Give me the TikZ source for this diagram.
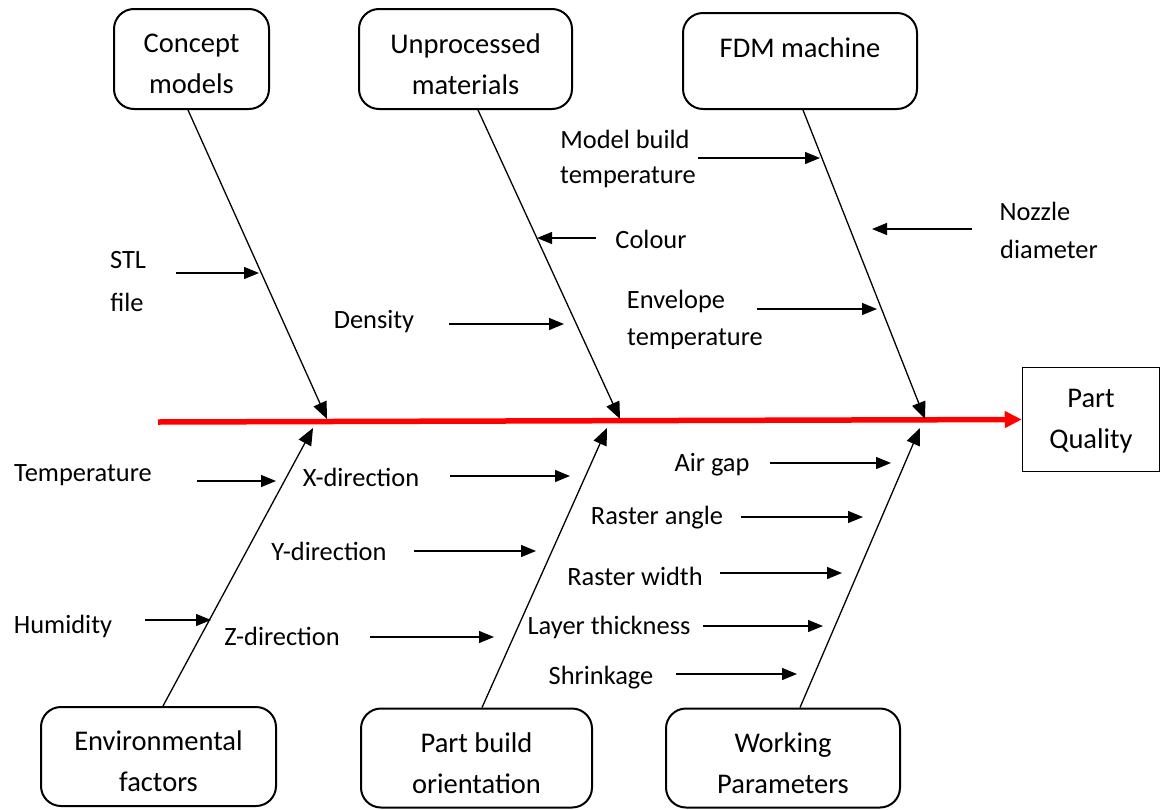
\documentclass[tikz,border=0pt]{standalone}
\usepackage{fontspec}
\setmainfont{Carlito}
\usetikzlibrary{arrows.meta}
\begin{document}
\begin{tikzpicture}[x=1pt,y=-1pt,
  cause/.style={draw,line width=2pt,rounded corners=20pt,inner sep=0pt},
  ctext/.style={align=center,inner sep=0pt,font=\fontsize{28.5}{41}\selectfont},
  effect/.style={draw,line width=1.5pt,inner sep=0pt},
  lbl/.style={inner sep=0pt,text height=17pt,text depth=0pt,
    font=\fontsize{26.4}{38}\selectfont},
  bone/.style={line width=1.3pt,-{Triangle[length=17pt,width=14pt]}},
  sub/.style={line width=1.3pt,-{Triangle[length=15pt,width=12pt]}},
  spine/.style={draw=red,line width=5.5pt,-{Triangle[length=17pt,width=16pt]}}]
\useasboundingbox (0,0) rectangle (1165,809);

% cause categories
\node[cause,minimum width=155pt,minimum height=100pt] (concept) at (191.5,59) {};
\node[ctext] (conceptT) at ([yshift=-5pt]concept.center) {Concept\\models};
\node[cause,minimum width=213pt,minimum height=100pt] (raw) at (465.5,59) {};
\node[ctext] (rawT) at ([yshift=-5pt]raw.center) {Unprocessed\\materials};
\node[cause,minimum width=234pt,minimum height=96pt] (fdm) at (800,61) {};
\node[ctext] (fdmT) at ([yshift=13pt]fdm.center) {FDM machine};
\node[cause,minimum width=235pt,minimum height=99pt] (env) at (158.5,756.5) {};
\node[ctext] (envT) at ([yshift=-5pt]env.center) {Environmental\\factors};
\node[cause,minimum width=231pt,minimum height=99pt] (orient) at (476.5,758) {};
\node[ctext] (orientT) at ([yshift=-5pt]orient.center) {Part build\\orientation};
\node[cause,minimum width=234pt,minimum height=99pt] (work) at (783,758) {};
\node[ctext] (workT) at ([yshift=-5pt]work.center) {Working\\Parameters};

% effect
\node[effect,minimum width=137pt,minimum height=104pt] (pq) at (1091,419.5) {};
\node[ctext] (pqT) at ([yshift=-2pt]pq.center) {Part\\Quality};

% spine
\coordinate (tail) at (158,422);
\draw[spine] (tail) -- (pq.west);

% main bones
\coordinate (t1) at (327,419);
\coordinate (t2) at (620,419);
\coordinate (t3) at (925,419);
\coordinate (u1) at (313,428);
\coordinate (u2) at (607,428);
\coordinate (u3) at (920,428);
\draw[bone] ([xshift=-3.5pt]concept.south) -- (t1);
\draw[bone] ([xshift=12.5pt]raw.south) -- (t2);
\draw[bone] ([xshift=3pt]fdm.south) -- (t3);
\draw[bone] ([xshift=4.5pt]env.north) -- (u1);
\draw[bone] ([xshift=5.5pt]orient.north) -- (u2);
\draw[bone] ([xshift=17pt]work.north) -- (u3);

% concept models
\node[lbl] (stl) at (128,260) {STL};
\node[lbl] (file) at (127,303) {file};
\coordinate (stlA) at (176,273); \coordinate (stlB) at (259,273);
\draw[sub] (stlA) -- (stlB);

% unprocessed materials
\node[lbl] (dens) at (374,320) {Density};
\coordinate (densA) at (449,324); \coordinate (densB) at (564,324);
\draw[sub] (densA) -- (densB);
\node[lbl] (col) at (651,240) {Colour};
\coordinate (colA) at (596,238); \coordinate (colB) at (537,238);
\draw[sub] (colA) -- (colB);

% FDM machine
\node[lbl] (mbt) at (625,140) {Model build};
\begin{scope}
\clip (540,160) rectangle (720,187);
\node[lbl] (mbt2) at (628,175) {temperature};
\end{scope}
\coordinate (mbtA) at (698,158); \coordinate (mbtB) at (820,158);
\draw[sub] (mbtA) -- (mbtB);
\node[lbl] (noz) at (1035,212) {Nozzle};
\node[lbl] (noz2) at (1049,250) {diameter};
\coordinate (nozA) at (972,229); \coordinate (nozB) at (872,229);
\draw[sub] (nozA) -- (nozB);
\node[lbl] (env1) at (676,300) {Envelope};
\begin{scope}
\clip (600,320) rectangle (800,348);
\node[lbl] (env2) at (695,337) {temperature};
\end{scope}
\coordinate (envA) at (757,309); \coordinate (envB) at (877,309);
\draw[sub] (envA) -- (envB);

% environmental factors
\node[lbl] (temp) at (83,473) {Temperature};
\coordinate (tempA) at (197,481); \coordinate (tempB) at (276,481);
\draw[sub] (tempA) -- (tempB);
\node[lbl] (hum) at (63,625) {Humidity};
\coordinate (humA) at (145,620); \coordinate (humB) at (211,620);
\draw[sub] (humA) -- (humB);

% part build orientation
\node[lbl] (xd) at (361,478) {X-direction};
\coordinate (xdA) at (450,476); \coordinate (xdB) at (570,476);
\draw[sub] (xdA) -- (xdB);
\node[lbl] (yd) at (329,552) {Y-direction};
\coordinate (ydA) at (414,551); \coordinate (ydB) at (536,551);
\draw[sub] (ydA) -- (ydB);
\node[lbl] (zd) at (282,637) {Z-direction};
\coordinate (zdA) at (370,637); \coordinate (zdB) at (494,637);
\draw[sub] (zdA) -- (zdB);

% working parameters
\node[lbl] (air) at (712,463) {Air gap};
\coordinate (airA) at (770,463); \coordinate (airB) at (891,463);
\draw[sub] (airA) -- (airB);
\node[lbl] (ra) at (657,516) {Raster angle};
\coordinate (raA) at (741,517); \coordinate (raB) at (863,517);
\draw[sub] (raA) -- (raB);
\node[lbl] (rw) at (635,577) {Raster width};
\coordinate (rwA) at (720,573); \coordinate (rwB) at (842,573);
\draw[sub] (rwA) -- (rwB);
\node[lbl] (lt) at (609,626) {Layer thickness};
\coordinate (ltA) at (703,626); \coordinate (ltB) at (823,626);
\draw[sub] (ltA) -- (ltB);
\node[lbl] (shr) at (601,676) {Shrinkage};
\coordinate (shrA) at (676,674); \coordinate (shrB) at (797,674);
\draw[sub] (shrA) -- (shrB);
\end{tikzpicture}
\end{document}
